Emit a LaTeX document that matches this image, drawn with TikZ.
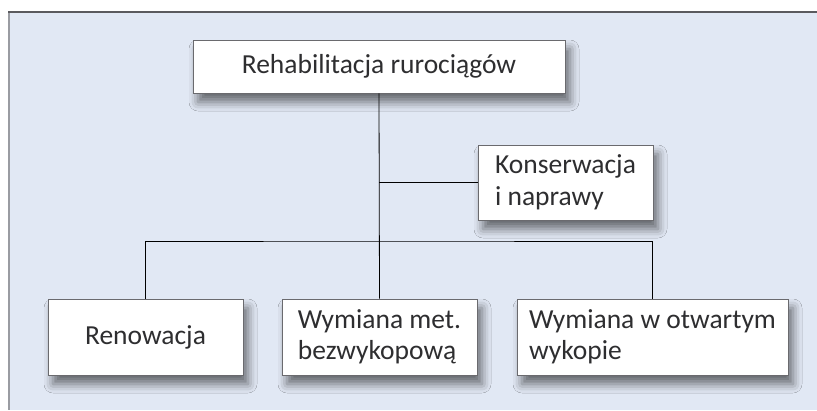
\documentclass[tikz,border=0pt]{standalone}
\usepackage{fontspec}
\setmainfont{Carlito}
\usetikzlibrary{shadows.blur}
\definecolor{panelfill}{HTML}{E1E8F4}
\definecolor{panelline}{HTML}{5A5A5E}
\definecolor{panelside}{HTML}{9A9CA2}
\definecolor{boxline}{HTML}{6A6A6E}
\definecolor{inktext}{HTML}{2E2E30}
\tikzset{
  box/.style={draw=boxline, line width=0.9pt, fill=white, rectangle,
    inner xsep=0pt, inner ysep=0pt, text=inktext,
    font=\fontsize{27.5}{31.5}\selectfont,
    blur shadow={shadow xshift=5pt, shadow yshift=-9pt,
      shadow blur radius=9pt, shadow opacity=55}},
  link/.style={draw=black, line width=0.8pt}
}
\begin{document}
\begin{tikzpicture}[x=1pt, y=-1pt]
  \useasboundingbox (0,0) rectangle (817,410);
  % light panel open to the right and bottom
  \fill[panelfill] (9,12) rectangle (817,410);
  \draw[panelside, line width=1.6pt] (9,12) -- (9,410);
  \draw[panelline, line width=1.2pt] (8.2,12) -- (817,12);

  % boxes
  \node[box, minimum width=372pt, minimum height=53pt] (top) at (379,66.5)
    {Rehabilitacja rurociągów};
  \node[box, minimum width=175pt, minimum height=75pt,
        align=left] (kons) at (565.5,182.5) {Konserwacja\\i naprawy};
  \node[box, minimum width=195pt, minimum height=76pt,
        align=center] (ren) at (145.5,337) {Renowacja};
  \node[box, minimum width=195pt, minimum height=76pt,
        align=left] (mid) at (379.5,337) {Wymiana met.\\bezwykopową};
  \node[box, minimum width=271pt, minimum height=76pt,
        align=left] (otw) at (652.5,337) {Wymiana w otwartym\\wykopie};

  % connectors
  \coordinate (bus) at (379,241);
  \draw[link] (top.south) -- (mid.north);
  \draw[link] (kons.west) -- (kons.west -| top.south);
  \draw[link] (ren.north) |- (bus) -| (otw.north);
\end{tikzpicture}
\end{document}
